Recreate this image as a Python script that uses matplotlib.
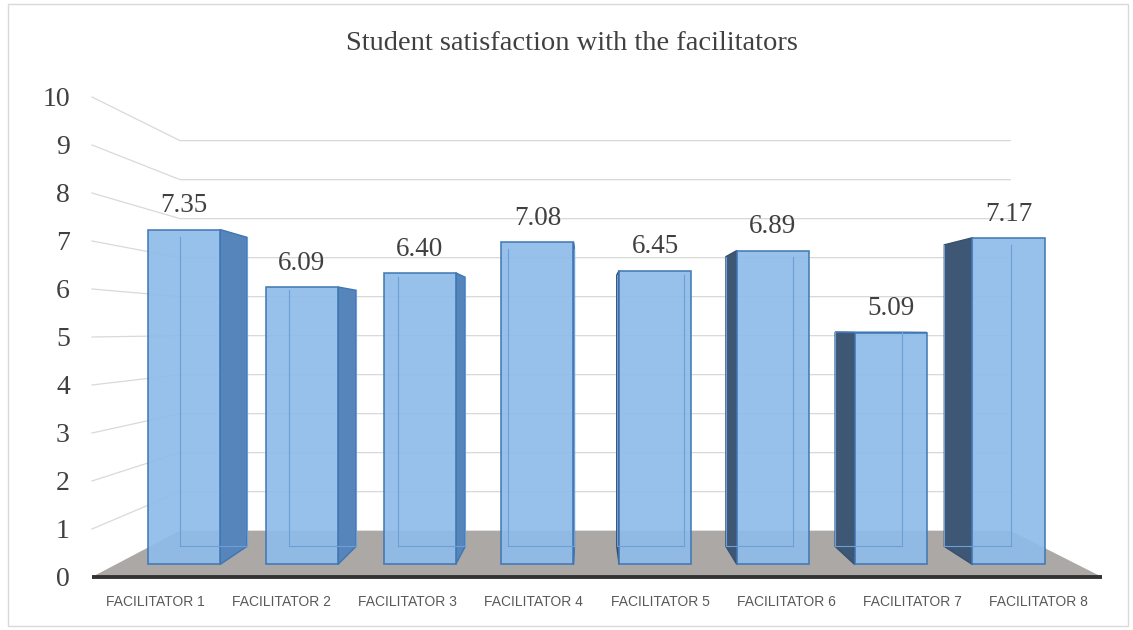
import matplotlib
matplotlib.use("Agg")
import matplotlib.pyplot as plt
from matplotlib.patches import Polygon, Rectangle

categories = ["FACILITATOR 1", "FACILITATOR 2", "FACILITATOR 3", "FACILITATOR 4",
              "FACILITATOR 5", "FACILITATOR 6", "FACILITATOR 7", "FACILITATOR 8"]
scores = [7.35, 6.09, 6.40, 7.08, 6.45, 6.89, 5.09, 7.17]
y_ticks = list(range(0, 11))
title = "Student satisfaction with the facilitators"

# fake 3D: vanishing point and shrink factors for depth 0 (front) .. 1 (back wall)
cx, cy = 3.917, 5.15
kx, ky = 0.178, 0.1875
bar_w = 0.6
bar_spread = 0.98
d_front, d_back = 0.27, 0.66


def project(x, y, d):
    return cx + (1 - kx * d) * (x - cx), cy + (1 - ky * d) * (y - cy)


fig = plt.figure(figsize=(11.33, 6.3), dpi=100)
ax = fig.add_axes([92 / 1133, 53 / 630, 1010 / 1133, 480 / 630])
n = len(categories)
ax.set_xlim(0, n)
ax.set_ylim(0, 10)
for s in ax.spines.values():
    s.set_visible(False)

# wall gridlines (left wall diagonal + back wall horizontal)
for v in y_ticks[1:]:
    p0 = project(0, v, 0)
    p1 = project(0, v, 1)
    p2 = project(n, v, 1)
    ax.plot([p0[0], p1[0], p2[0]], [p0[1], p1[1], p2[1]], color="#d9d9d9",
            lw=0.9, zorder=1, clip_on=False)

# floor
floor = [project(0, 0, 0), project(n, 0, 0), project(n, 0, 1), project(0, 0, 1)]
ax.add_patch(Polygon(floor, closed=True, fc="#aba8a5", ec="none", zorder=2, clip_on=False))
ax.plot([0, n], [0, 0], color="#333333", lw=2.8, zorder=2.5, clip_on=False,
        solid_capstyle="butt")

edge = "#3f76b3"
for i, v in enumerate(scores):
    mid = cx + bar_spread * (i + 0.5 - cx)
    a = mid - bar_w / 2
    b = mid + bar_w / 2
    fl, fr = project(a, 0, d_front), project(b, 0, d_front)
    tl, tr = project(a, v, d_front), project(b, v, d_front)
    bl, br = project(a, 0, d_back), project(b, 0, d_back)
    btl, btr = project(a, v, d_back), project(b, v, d_back)
    # visible side
    if b < cx:
        ax.add_patch(Polygon([fr, br, btr, tr], closed=True, fc="#5585bb", ec=edge,
                             lw=1, zorder=3, clip_on=False))
    if a > cx:
        ax.add_patch(Polygon([fl, bl, btl, tl], closed=True, fc="#3e5775", ec="#35506e",
                             lw=1, zorder=3, clip_on=False))
    if v < cy:
        ax.add_patch(Polygon([tl, tr, btr, btl], closed=True, fc="#7fb0e3", ec=edge,
                             lw=1, zorder=3, clip_on=False))
    # hidden back edges seen through the glassy front
    for p, q in [(bl, br), (bl, btl), (br, btr)]:
        ax.plot([p[0], q[0]], [p[1], q[1]], color="#6c9fd8", lw=0.8, zorder=4.5, clip_on=False)
    ax.add_patch(Polygon([fl, fr, tr, tl], closed=True, fc="#8ebbea", ec=edge, lw=1.2,
                         alpha=0.92, zorder=4, clip_on=False))
    ax.annotate(f"{v:.2f}", ((tl[0] + tr[0]) / 2, tl[1]), xytext=(0, 8),
                textcoords="offset points", ha="center", va="bottom",
                fontsize=19.5, family="Liberation Serif", color="#404040", zorder=6)

ax.set_yticks(y_ticks)
ax.set_yticklabels([str(t) for t in y_ticks], family="Liberation Serif", fontsize=20,
                   color="#404040")
ax.tick_params(axis="y", length=0, pad=16)
ax.set_xticks([i + 0.5 for i in range(n)])
ax.set_xticklabels(categories, family="Liberation Sans", fontsize=10, color="#595959")
ax.tick_params(axis="x", length=0, pad=13)

fig.text(572 / 1133, 1 - 43 / 630, title, ha="center", va="center", family="Liberation Serif",
         fontsize=20.5, color="#404040")
fig.add_artist(Rectangle((8 / 1133, 4 / 630), 1120 / 1133, 622 / 630, transform=fig.transFigure,
                         fill=False, ec="#d9d9d9", lw=1))

fig.savefig("out.png", dpi=100)
